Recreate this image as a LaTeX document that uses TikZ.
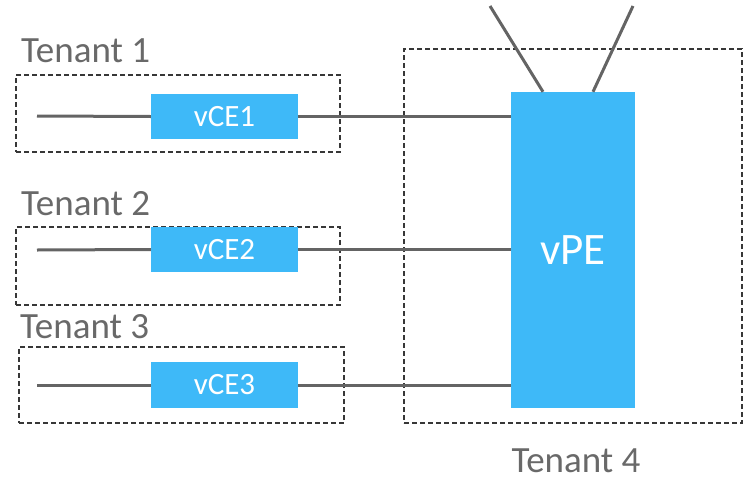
\documentclass[tikz,border=0pt]{standalone}
\usepackage{fontspec}
\setmainfont{Carlito}
\usepackage{tikz}
\usetikzlibrary{positioning}

\definecolor{vblue}{RGB}{62,185,248}
\definecolor{linegray}{RGB}{100,100,100}
\definecolor{textgray}{RGB}{105,105,105}
\definecolor{dashgray}{RGB}{55,55,55}

\begin{document}
\begin{tikzpicture}[x=1pt, y=-1pt, tenant/.style={draw=dashgray, line width=2pt, dash pattern=on 5pt off 3pt, rectangle, inner sep=0pt}, vbox/.style={fill=vblue, rectangle, inner sep=0pt, text=white}, label/.style={text=textgray, font=\fontsize{37}{40}\selectfont, inner sep=0pt}, wire/.style={draw=linegray, line width=3pt}]
    \useasboundingbox (0,0) rectangle (744,482);

    % tenant boxes
    \node[tenant, minimum width=324pt, minimum height=77pt] (T1) at (178,113.5) {};
    \node[tenant, minimum width=324pt, minimum height=78pt] (T2) at (178,266) {};
    \node[tenant, minimum width=325pt, minimum height=76pt] (T3) at (181.5,385) {};
    \node[tenant, minimum width=338pt, minimum height=374pt] (T4) at (573,236) {};

    % labels
    \node[label, anchor=base west] (L1) at (21,62) {Tenant 1};
    \node[label, anchor=base west] (L2) at (21,215) {Tenant 2};
    \node[label, anchor=base west] (L3) at (20,338) {Tenant 3};
    \node[label, anchor=base] (L4) at (576,472) {Tenant 4};

    % lines (drawn below the boxes)
    \coordinate (in1) at (37,116);
    \coordinate (in2) at (37,250);
    \coordinate (in3) at (37,385);
    \coordinate (up1) at (490,6);
    \coordinate (up2) at (633,6);

    % functions
    \node[vbox, minimum width=147pt, minimum height=45pt, font=\fontsize{31}{34}\selectfont] (vce1) at (224.5,116.5) {vCE1};
    \node[vbox, minimum width=147pt, minimum height=45pt, font=\fontsize{31}{34}\selectfont] (vce2) at (224.5,249.5) {vCE2};
    \node[vbox, minimum width=147pt, minimum height=46pt, font=\fontsize{31}{34}\selectfont] (vce3) at (224.5,385) {vCE3};
    \node[vbox, minimum width=124pt, minimum height=316pt, font=\fontsize{45}{48}\selectfont] (vpe) at (573,250) {vPE};

    % wires
    \draw[wire] (in1) -- (vce1.west);
    \draw[wire] (in2) -- (vce2.west);
    \draw[wire] (in3) -- (vce3.west);
    \draw[wire] (vce1.east) -- (vce1.east -| vpe.west);
    \draw[wire] (vce2.east) -- (vce2.east -| vpe.west);
    \draw[wire] (vce3.east) -- (vce3.east -| vpe.west);
    \draw[wire] (up1) -- ([xshift=-30pt]vpe.north);
    \draw[wire] (up2) -- ([xshift=20pt]vpe.north);
\end{tikzpicture}
\end{document}
